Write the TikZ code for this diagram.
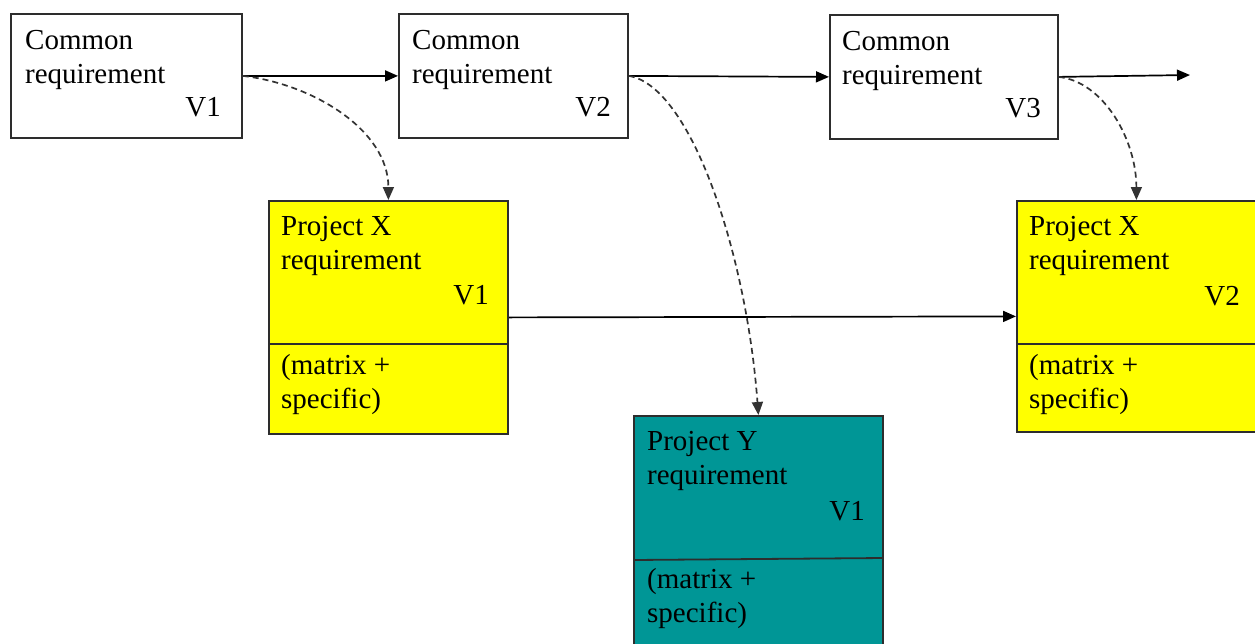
\documentclass[tikz,border=0pt]{standalone}
\usepackage{fontspec}
\setmainfont{Liberation Serif}
\newfontfamily\boxfont{Liberation Serif}
\usetikzlibrary{arrows.meta,calc}
\definecolor{boxline}{RGB}{45,45,45}
\definecolor{projyellow}{RGB}{255,255,0}
\definecolor{projteal}{RGB}{0,150,150}
\begin{document}
\begin{tikzpicture}[x=1pt,y=-1pt,
  reqbox/.style={draw=boxline, line width=1.8pt, anchor=north west, inner sep=0pt},
  lbl/.style={inner sep=0pt, font=\boxfont\fontsize{29}{34}\selectfont, text=black},
  flow/.style={line width=1.7pt, -{Triangle[length=13pt,width=11pt]}},
  derive/.style={line width=1.7pt, draw=black!80, dash pattern=on 6pt off 4pt, -{Triangle[length=13pt,width=11pt]}},
  divider/.style={draw=boxline, line width=1.8pt}]
\useasboundingbox (0,0) rectangle (1255,643);
\clip (0,0) rectangle (1255,643);

% common requirement versions
\node[reqbox, fill=white, minimum width=231pt, minimum height=124pt] (c1) at (10,13) {};
\node[reqbox, fill=white, minimum width=229pt, minimum height=124pt] (c2) at (398,13) {};
\node[reqbox, fill=white, minimum width=228pt, minimum height=124pt] (c3) at (829,14) {};

\node[lbl, anchor=base west] (c1a) at (25,49) {Common};
\node[lbl, anchor=base west] (c1b) at (25,83) {requirement};
\node[lbl, anchor=base east] (c1v) at (221,116) {V1};
\node[lbl, anchor=base west] (c2a) at (412,49) {Common};
\node[lbl, anchor=base west] (c2b) at (412,83) {requirement};
\node[lbl, anchor=base east] (c2v) at (611,116) {V2};
\node[lbl, anchor=base west] (c3a) at (842,50) {Common};
\node[lbl, anchor=base west] (c3b) at (842,84) {requirement};
\node[lbl, anchor=base east] (c3v) at (1041,117) {V3};

% project X, version 1
\node[reqbox, fill=projyellow, minimum width=239pt, minimum height=233pt] (px1) at (268,200) {};
\draw[divider] ($(px1.north west)+(0,144)$) -- ($(px1.north east)+(0,144)$);
\node[lbl, anchor=base west] (px1a) at (281,235) {Project X};
\node[lbl, anchor=base west] (px1b) at (281,269) {requirement};
\node[lbl, anchor=base east] (px1v) at (489,304) {V1};
\node[lbl, anchor=base west] (px1c) at (281,374) {(matrix +};
\node[lbl, anchor=base west] (px1d) at (281,408) {specific)};

% project X, version 2
\node[reqbox, fill=projyellow, minimum width=239pt, minimum height=231pt] (px2) at (1016,200) {};
\draw[divider] ($(px2.north west)+(0,144)$) -- ($(px2.north east)+(0,144)$);
\node[lbl, anchor=base west] (px2a) at (1029,235) {Project X};
\node[lbl, anchor=base west] (px2b) at (1029,269) {requirement};
\node[lbl, anchor=base east] (px2v) at (1240,305) {V2};
\node[lbl, anchor=base west] (px2c) at (1029,374) {(matrix +};
\node[lbl, anchor=base west] (px2d) at (1029,408) {specific)};

% project Y, version 1
\node[reqbox, fill=projteal, minimum width=249pt, minimum height=240pt] (py1) at (633,415) {};
\draw[divider] ($(py1.north west)+(0,145)$) -- ($(py1.north east)+(0,143)$);
\node[lbl, anchor=base west] (py1a) at (647,450) {Project Y};
\node[lbl, anchor=base west] (py1b) at (647,484) {requirement};
\node[lbl, anchor=base east] (py1v) at (865,520) {V1};
\node[lbl, anchor=base west] (py1c) at (647,588) {(matrix +};
\node[lbl, anchor=base west] (py1d) at (647,622) {specific)};

% version flow of the common requirement
\coordinate (next) at (1190,75);
\draw[flow] (c1.east) -- (c2.west);
\draw[flow] (c2.east) -- (c3.west);
\draw[flow] (c3.east) -- (next);
\draw[flow] (px1.east) -- (px2.west);

% derivations into the projects
\draw[derive] (c1.east) .. controls +(70,8) and +(0,-70) .. (px1.north);
\draw[derive] (c2.east) .. controls +(62,10) and +(-12,-162) .. (py1.north);
\draw[derive] (c3.east) .. controls +(45,5) and +(0,-60) .. (px2.north);
\end{tikzpicture}
\end{document}
